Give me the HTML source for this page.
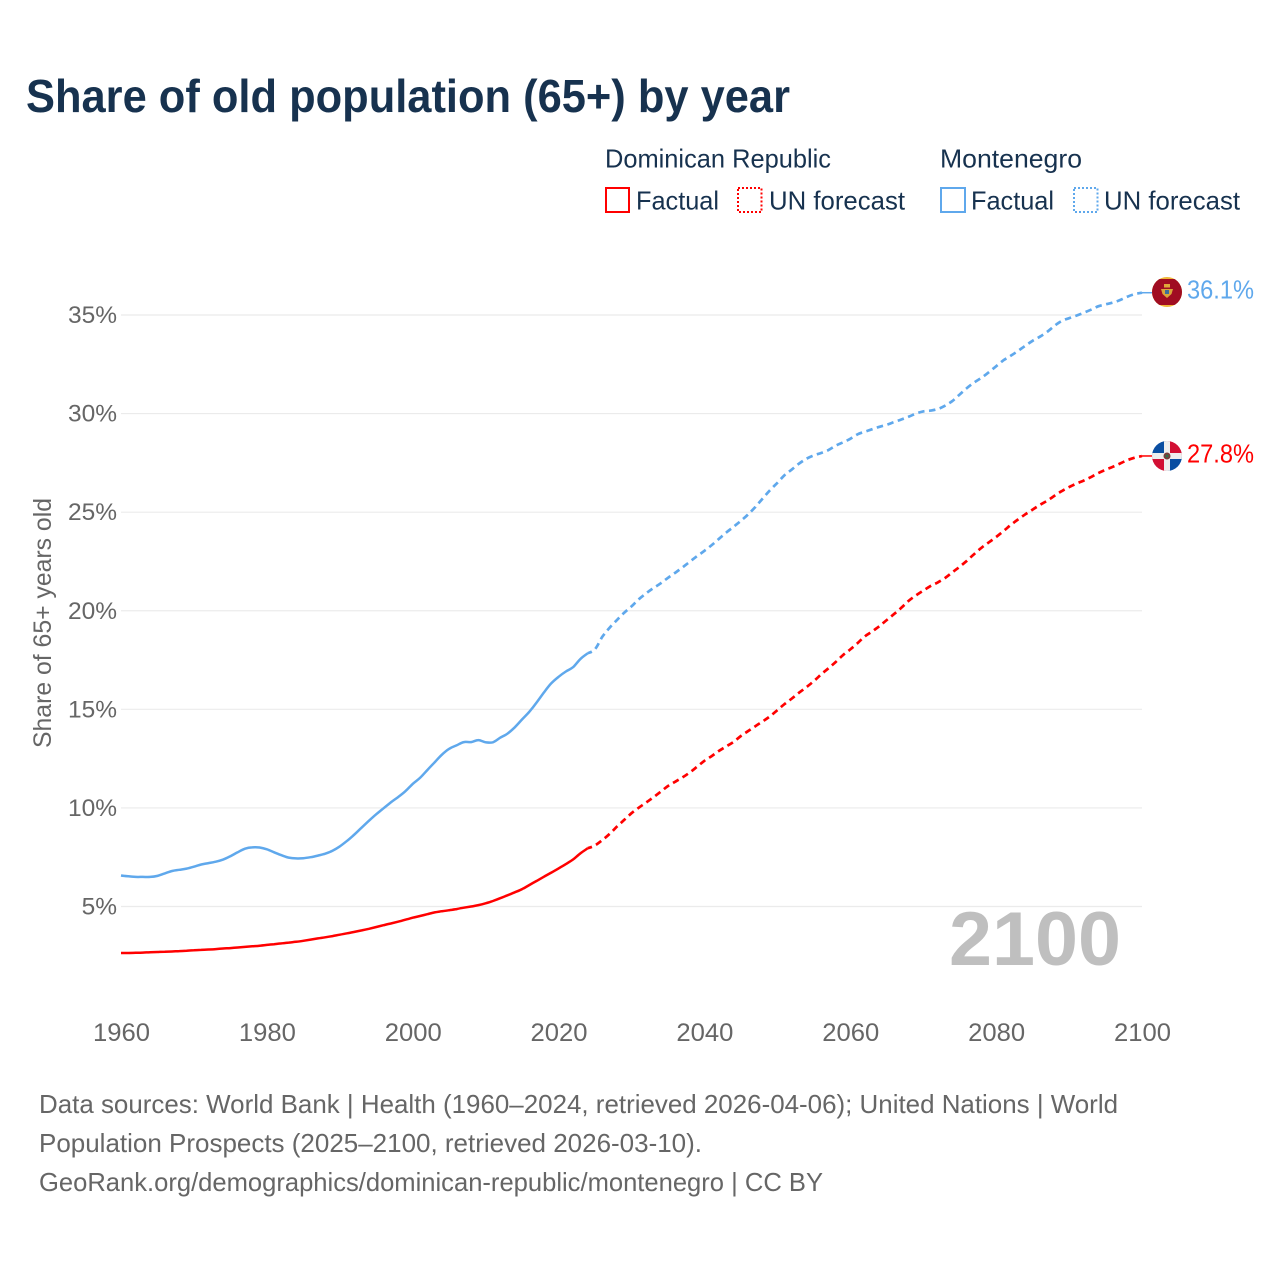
<!DOCTYPE html>
<html lang="en">
<head>
<meta charset="utf-8">
<title>Share of old population (65+) by year</title>
<style>
html,body{margin:0;padding:0;background:#fff;}
svg{display:block;font-family:"Liberation Sans",sans-serif;}
</style>
</head>
<body>
<svg id="chart" xmlns="http://www.w3.org/2000/svg" width="1280" height="1280" viewBox="0 0 1280 1280">
  <rect x="0" y="0" width="1280" height="1280" fill="#ffffff"/>
  <text x="26" y="112" font-size="46" font-weight="700" fill="#17324f" textLength="764" lengthAdjust="spacingAndGlyphs">Share of old population (65+) by year</text>

  <g font-size="26" fill="#17324f">
    <text x="605" y="167.5" textLength="226" lengthAdjust="spacingAndGlyphs">Dominican Republic</text>
    <text x="940" y="167.5" textLength="142" lengthAdjust="spacingAndGlyphs">Montenegro</text>
    <rect x="606" y="188" width="23" height="24" fill="none" stroke="#ff0000" stroke-width="2"/>
    <text x="636" y="209.5" textLength="83" lengthAdjust="spacingAndGlyphs">Factual</text>
    <rect x="738" y="188" width="23.5" height="24" fill="none" stroke="#ff0000" stroke-width="2" stroke-dasharray="2 2"/>
    <text x="769" y="209.5" textLength="136" lengthAdjust="spacingAndGlyphs">UN forecast</text>
    <rect x="941" y="188" width="24" height="24" fill="none" stroke="#5fa8ec" stroke-width="2"/>
    <text x="971" y="209.5" textLength="83" lengthAdjust="spacingAndGlyphs">Factual</text>
    <rect x="1074" y="188" width="23.5" height="24" fill="none" stroke="#5fa8ec" stroke-width="2" stroke-dasharray="2 2"/>
    <text x="1104" y="209.5" textLength="136" lengthAdjust="spacingAndGlyphs">UN forecast</text>
  </g>

  <g id="grid"></g>
  <g id="yticks"></g>
  <g id="xticks"></g>
  <text transform="translate(51,748) rotate(-90)" font-size="25" fill="#666666" textLength="250" lengthAdjust="spacingAndGlyphs">Share of 65+ years old</text>
  <text x="949" y="965" font-size="76" font-weight="700" fill="#bfbfbf" textLength="172" lengthAdjust="spacingAndGlyphs">2100</text>
  <g id="series"></g>

  <g>
    <clipPath id="clip-me"><circle cx="1167" cy="292" r="15"/></clipPath>
    <g clip-path="url(#clip-me)">
      <rect x="1152" y="277" width="30" height="30" fill="#f0b83a"/>
      <rect x="1152" y="279" width="30" height="26" fill="#a00d22"/>
      <rect x="1164" y="284" width="6" height="3.5" fill="#e0a93a"/>
      <path d="M1161 289h12l-1.5 5-4.5 4-4.5-4z" fill="#d9a63a"/>
      <rect x="1165" y="290" width="4" height="4" fill="#3d6f9a"/>
    </g>
  </g>
  <g>
    <clipPath id="clip-dr"><circle cx="1167" cy="456" r="15"/></clipPath>
    <g clip-path="url(#clip-dr)">
      <rect x="1152" y="441" width="15" height="15" fill="#0a4ea2"/>
      <rect x="1167" y="441" width="15" height="15" fill="#d21034"/>
      <rect x="1152" y="456" width="15" height="15" fill="#d21034"/>
      <rect x="1167" y="456" width="15" height="15" fill="#0a4ea2"/>
      <rect x="1164" y="441" width="6" height="30" fill="#eeeeee"/>
      <rect x="1152" y="453" width="30" height="6" fill="#eeeeee"/>
      <circle cx="1167" cy="456" r="3.5" fill="#7a3b3b"/>
      <circle cx="1167" cy="456" r="1.5" fill="#2f6e4a"/>
    </g>
  </g>
  <text x="1187" y="298.5" font-size="26" fill="#5fa8ec" textLength="67" lengthAdjust="spacingAndGlyphs">36.1%</text>
  <text x="1187" y="462.5" font-size="26" fill="#ff0000" textLength="67" lengthAdjust="spacingAndGlyphs">27.8%</text>

  <g font-size="26" fill="#666666">
    <text x="39" y="1113" textLength="1079" lengthAdjust="spacingAndGlyphs">Data sources: World Bank | Health (1960–2024, retrieved 2026-04-06); United Nations | World</text>
    <text x="39" y="1152" textLength="663" lengthAdjust="spacingAndGlyphs">Population Prospects (2025–2100, retrieved 2026-03-10).</text>
    <text x="39" y="1191" textLength="784" lengthAdjust="spacingAndGlyphs">GeoRank.org/demographics/dominican-republic/montenegro | CC BY</text>
  </g>
</svg>
<script>
const firstFactualYear = 1960;
const firstForecastYear = 2025;
const yTickValues = [5, 10, 15, 20, 25, 30, 35];
const yTickLabels = ["5%", "10%", "15%", "20%", "25%", "30%", "35%"];
const xTickYears = [1960, 1980, 2000, 2020, 2040, 2060, 2080, 2100];
const xTickLabels = ["1960", "1980", "2000", "2020", "2040", "2060", "2080", "2100"];

const drFactual = [
  2.64,2.64,2.65,2.66,2.68,2.69,2.71,2.72,2.74,2.76,
  2.78,2.80,2.82,2.84,2.87,2.89,2.92,2.95,2.98,3.01,
  3.05,3.09,3.13,3.17,3.21,3.26,3.32,3.38,3.44,3.50,
  3.57,3.64,3.71,3.79,3.87,3.96,4.05,4.14,4.23,4.33,
  4.43,4.52,4.61,4.70,4.76,4.81,4.87,4.94,5.00,5.07,
  5.16,5.28,5.42,5.57,5.72,5.88,6.09,6.30,6.51,6.72,
  6.93,7.15,7.39,7.70,7.95
];
const drForecast = [
  8.10,8.37,8.68,9.05,9.39,9.73,10.01,10.27,10.54,10.82,
  11.11,11.33,11.55,11.80,12.09,12.39,12.63,12.89,13.12,13.35,
  13.65,13.90,14.15,14.39,14.65,14.96,15.27,15.55,15.85,16.13,
  16.43,16.77,17.08,17.40,17.75,18.04,18.36,18.70,18.95,19.22,
  19.53,19.83,20.15,20.50,20.78,21.02,21.25,21.44,21.66,21.95,
  22.23,22.54,22.88,23.20,23.47,23.74,24.04,24.35,24.63,24.89,
  25.13,25.37,25.58,25.83,26.07,26.27,26.45,26.60,26.78,26.98,
  27.15,27.30,27.47,27.64,27.76,27.85
];
const meFactual = [
  6.57,6.53,6.50,6.50,6.50,6.55,6.68,6.80,6.86,6.92,
  7.02,7.13,7.20,7.27,7.38,7.55,7.75,7.93,8.00,7.99,
  7.90,7.75,7.60,7.48,7.44,7.45,7.50,7.58,7.68,7.83,
  8.05,8.33,8.65,9.00,9.35,9.68,9.98,10.28,10.55,10.85,
  11.22,11.52,11.92,12.31,12.70,13.00,13.17,13.34,13.34,13.44,
  13.33,13.33,13.56,13.77,14.09,14.49,14.88,15.35,15.86,16.32,
  16.65,16.92,17.14,17.56,17.84
];
const meForecast = [
  18.05,18.68,19.14,19.53,19.90,20.22,20.58,20.88,21.15,21.39,
  21.67,21.93,22.20,22.49,22.77,23.04,23.33,23.65,23.97,24.26,
  24.56,24.89,25.27,25.70,26.12,26.49,26.88,27.17,27.47,27.71,
  27.88,28.00,28.15,28.37,28.54,28.72,28.95,29.08,29.21,29.33,
  29.43,29.57,29.70,29.84,30.00,30.11,30.15,30.23,30.40,30.64,
  30.97,31.30,31.58,31.82,32.10,32.40,32.70,32.93,33.18,33.44,
  33.69,33.90,34.15,34.45,34.70,34.84,34.97,35.11,35.27,35.44,
  35.54,35.63,35.76,35.93,36.06,36.13
];

const SVG_NS = "http://www.w3.org/2000/svg";
const xScale = function (year) { return 121 + (year - 1960) * (1142 - 121) / 140; };
const yScale = function (v) { return 906.5 - (v - 5) * (906.5 - 315) / 30; };

const gridGroup = document.getElementById("grid");
const yGroup = document.getElementById("yticks");
const xGroup = document.getElementById("xticks");
const seriesGroup = document.getElementById("series");

yTickValues.forEach(function (v, i) {
  const line = document.createElementNS(SVG_NS, "line");
  
  
  line.setAttribute("x1", xScale(1960));
  line.setAttribute("x2", xScale(2100));
  line.setAttribute("y1", yScale(v));
  line.setAttribute("y2", yScale(v));
  line.setAttribute("stroke", "#ebebeb");
  line.setAttribute("stroke-width", "1.2");
  gridGroup.appendChild(line);

  const label = document.createElementNS(SVG_NS, "text");
  
  
  label.setAttribute("x", 117);
  label.setAttribute("y", yScale(v) + 8);
  label.setAttribute("text-anchor", "end");
  label.setAttribute("font-size", "24.5");
  label.setAttribute("fill", "#666666");
  label.textContent = yTickLabels[i];
  yGroup.appendChild(label);
});

xTickYears.forEach(function (year, i) {
  const label = document.createElementNS(SVG_NS, "text");
  
  
  label.setAttribute("x", xScale(year) + 0.5);
  label.setAttribute("y", 1041);
  label.setAttribute("text-anchor", "middle");
  label.setAttribute("font-size", "25");
  label.setAttribute("fill", "#666666");
  label.setAttribute("textLength", "57");
  label.setAttribute("lengthAdjust", "spacingAndGlyphs");
  label.textContent = xTickLabels[i];
  xGroup.appendChild(label);
});

function pointsFor(values, startYear) {
  return values.map(function (v, i) {
    return [xScale(startYear + i), yScale(v)];
  });
}

function smoothPath(pts) {
  let d = "M" + pts[0][0].toFixed(1) + " " + pts[0][1].toFixed(1);
  for (let i = 0; i < pts.length - 1; i++) {
    const p0 = pts[Math.max(i - 1, 0)];
    const p1 = pts[i];
    const p2 = pts[i + 1];
    const p3 = pts[Math.min(i + 2, pts.length - 1)];
    const c1x = p1[0] + (p2[0] - p0[0]) / 6;
    const c1y = p1[1] + (p2[1] - p0[1]) / 6;
    const c2x = p2[0] - (p3[0] - p1[0]) / 6;
    const c2y = p2[1] - (p3[1] - p1[1]) / 6;
    d += "C" + c1x.toFixed(1) + " " + c1y.toFixed(1) + " " + c2x.toFixed(1) + " " + c2y.toFixed(1) + " " + p2[0].toFixed(1) + " " + p2[1].toFixed(1);
  }
  return d;
}

function addFactual(values, color, name) {
  const line = document.createElementNS(SVG_NS, "path");
  
  
  line.setAttribute("d", smoothPath(pointsFor(values, firstFactualYear)));
  line.setAttribute("fill", "none");
  line.setAttribute("stroke", color);
  line.setAttribute("stroke-width", "2.5");
  line.setAttribute("stroke-linejoin", "round");
  seriesGroup.appendChild(line);
}

function addForecast(lastFactual, values, color, name) {
  const pts = pointsFor(values, firstForecastYear);
  pts.unshift([xScale(firstForecastYear - 1), yScale(lastFactual)]);
  const line = document.createElementNS(SVG_NS, "path");
  
  
  line.setAttribute("d", smoothPath(pts));
  line.setAttribute("fill", "none");
  line.setAttribute("stroke", color);
  line.setAttribute("stroke-width", "2.7");
  line.setAttribute("stroke-dasharray", "6.5 4.5");
  line.setAttribute("stroke-dashoffset", "2");
  seriesGroup.appendChild(line);
}

function addConnector(value, color, name) {
  const line = document.createElementNS(SVG_NS, "line");
  
  
  line.setAttribute("x1", xScale(2100));
  line.setAttribute("x2", xScale(2100) + 10);
  line.setAttribute("y1", yScale(value));
  line.setAttribute("y2", yScale(value));
  line.setAttribute("stroke", color);
  line.setAttribute("stroke-width", "1.5");
  seriesGroup.appendChild(line);
}

addFactual(drFactual, "#ff0000", "line-dominican-republic-factual");
addForecast(drFactual[drFactual.length - 1], drForecast, "#ff0000", "line-dominican-republic-forecast");
addConnector(drForecast[drForecast.length - 1], "#ff0000", "connector-dominican-republic");
addFactual(meFactual, "#5fa8ec", "line-montenegro-factual");
addForecast(meFactual[meFactual.length - 1], meForecast, "#5fa8ec", "line-montenegro-forecast");
addConnector(meForecast[meForecast.length - 1], "#5fa8ec", "connector-montenegro");
</script>
</body>
</html>
